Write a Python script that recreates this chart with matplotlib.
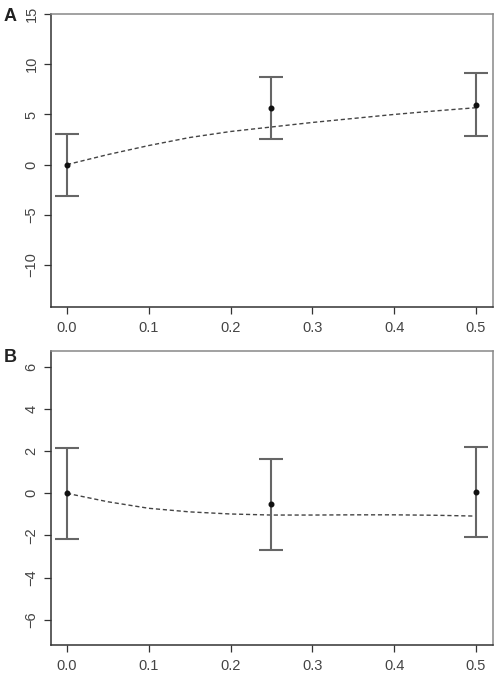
import numpy as np
import matplotlib.pyplot as plt

# Panel A data
x_pts = [0.0, 0.25, 0.5]
a_mean = [0.0, 5.63, 5.97]
a_low = [-3.15, 2.53, 2.9]
a_high = [3.05, 8.7, 9.1]
a_curve_x = [0.0, 0.05, 0.1, 0.15, 0.2, 0.25, 0.3, 0.35, 0.4, 0.45, 0.5]
a_curve_y = [0.0, 1.0, 1.9, 2.7, 3.3, 3.75, 4.2, 4.6, 5.0, 5.35, 5.67]

# Panel B data
b_mean = [0.0, -0.52, 0.08]
b_low = [-2.15, -2.7, -2.06]
b_high = [2.16, 1.64, 2.21]
b_curve_x = [0.0, 0.05, 0.1, 0.15, 0.2, 0.25, 0.3, 0.35, 0.4, 0.45, 0.5]
b_curve_y = [0.0, -0.4, -0.71, -0.88, -0.98, -1.03, -1.03, -1.02, -1.02, -1.04, -1.08]

x_ticks = [0.0, 0.1, 0.2, 0.3, 0.4, 0.5]
x_ticklabels = ['0.0', '0.1', '0.2', '0.3', '0.4', '0.5']

plt.rcParams['font.family'] = ['Liberation Sans', 'DejaVu Sans']

fig = plt.figure(figsize=(4.98, 6.74), dpi=100)
ax_a = fig.add_axes([0.1024, 0.5445, 0.8876, 0.4345])
ax_b = fig.add_axes([0.1024, 0.043, 0.8876, 0.436])


def draw_panel(ax, mean, low, high, cx, cy, ylim, yticks):
    mean = np.array(mean)
    err = [mean - np.array(low), np.array(high) - mean]
    ax.plot(cx, cy, color='#444444', lw=1.0, dashes=(3, 2))
    ax.errorbar(x_pts, mean, yerr=err, fmt='none', ecolor='#666666',
                elinewidth=1.5, capsize=8.5, capthick=1.5)
    ax.plot(x_pts, mean, 'o', color='#111111', ms=3.3)
    ax.set_xlim(-0.0196, 0.521)
    ax.set_ylim(*ylim)
    ax.set_xticks(x_ticks)
    ax.set_xticklabels(x_ticklabels)
    ax.set_yticks(yticks)
    ax.set_yticklabels([str(t).replace('-', '\u2212') for t in yticks],
                       rotation=90, va='center')
    ax.tick_params(direction='out', length=5, width=0.9, colors='#333333',
                   labelsize=10.5, labelcolor='#444444')
    ax.tick_params(axis='x', pad=5)
    ax.tick_params(axis='y', pad=4)
    for side in ['left', 'bottom']:
        ax.spines[side].set_color('#333333')
        ax.spines[side].set_linewidth(1.1)
    for side in ['top', 'right']:
        ax.spines[side].set_color('#888888')
        ax.spines[side].set_linewidth(1.1)


draw_panel(ax_a, a_mean, a_low, a_high, a_curve_x, a_curve_y,
           (-14.2, 15.0), [-10, -5, 0, 5, 10, 15])
draw_panel(ax_b, b_mean, b_low, b_high, b_curve_x, b_curve_y,
           (-7.2, 6.75), [-6, -4, -2, 0, 2, 4, 6])

fig.text(0.008, 0.988, 'A', fontsize=13, fontweight='bold', va='top',
         ha='left', color='#222222')
fig.text(0.008, 0.482, 'B', fontsize=13, fontweight='bold', va='top',
         ha='left', color='#222222')

fig.savefig('out.png', dpi=100)
